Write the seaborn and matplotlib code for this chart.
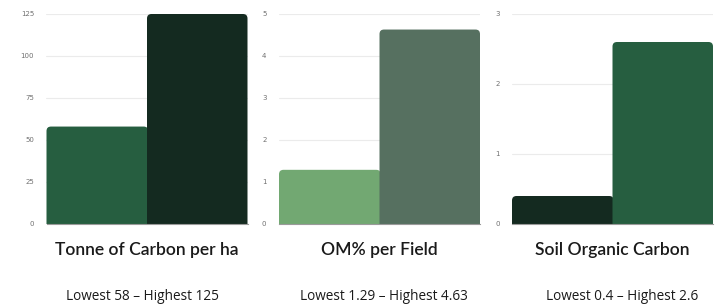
import matplotlib
matplotlib.use("Agg")
import matplotlib.pyplot as plt
import seaborn as sns
import pandas as pd
from matplotlib.patches import FancyBboxPatch

sns.set_theme(style="white")

titles = ["Tonne of Carbon per ha", "OM% per Field", "Soil Organic Carbon"]
categories = ["Lowest", "Highest"]
carbon_values = [58, 125]
om_values = [1.29, 4.63]
soc_values = [0.4, 2.6]
carbon_ticks = [0, 25, 50, 75, 100, 125]
om_ticks = [0, 1, 2, 3, 4, 5]
soc_ticks = [0, 1, 2, 3]
carbon_colors = ["#265E40", "#142A20"]
om_colors = ["#72A872", "#567060"]
soc_colors = ["#142A20", "#265E40"]
footers = ["Lowest 58 \u2013 Highest 125", "Lowest 1.29 \u2013 Highest 4.63",
           "Lowest 0.4 \u2013 Highest 2.6"]

panels = [
    (carbon_values, carbon_ticks, carbon_colors),
    (om_values, om_ticks, om_colors),
    (soc_values, soc_ticks, soc_colors),
]

W, H = 723, 304
fig = plt.figure(figsize=(W / 100, H / 100), dpi=100)
lefts = [46.5, 279, 512]
ax_w, ax_top, ax_bot = 201, 14, 224
footer_x = [142.5, 383.5, 622]

for i, (vals, ticks, cols) in enumerate(panels):
    ax = fig.add_axes([lefts[i] / W, 1 - ax_bot / H, ax_w / W, (ax_bot - ax_top) / H])
    df = pd.DataFrame({"cat": categories, "val": vals})
    sns.barplot(data=df, x="cat", y="val", hue="cat", palette=cols, width=1,
                legend=False, ax=ax, zorder=3, saturation=1)
    ymax = ticks[-1]
    ax.set_ylim(0, ymax)
    ax.set_xlim(-0.5, 1.5)
    # rounded top corners
    r_px = 4.5
    rx = r_px * 2 / ax_w
    ry = r_px * ymax / (ax_bot - ax_top)
    for j, p in enumerate(list(ax.patches)):
        x0, w, h = p.get_x(), p.get_width(), p.get_height()
        fc = p.get_facecolor()
        p.remove()
        extra = 0.012 if j == 0 else 0.0
        fb = FancyBboxPatch((x0, -ry * 2), w + extra, h + ry * 2,
                            boxstyle=f"round,pad=0,rounding_size={rx}",
                            mutation_aspect=ry / rx, facecolor=fc,
                            edgecolor="none", zorder=3 + j)
        ax.add_patch(fb)
    ax.set_yticks(ticks)
    ax.set_yticklabels([str(t) for t in ticks])
    ax.tick_params(axis="y", labelsize=5, colors="#707070", length=0, pad=9)
    ax.set_xticks([])
    ax.set_xlabel("")
    ax.set_ylabel("")
    ax.grid(axis="y", color="#ebebeb", linewidth=0.8, zorder=0)
    for s in ["top", "right", "left"]:
        ax.spines[s].set_visible(False)
    ax.spines["bottom"].set_color("#9a9a9a")
    ax.spines["bottom"].set_linewidth(0.8)
    ax.spines["bottom"].set_zorder(6)
    cx = (lefts[i] + ax_w / 2) / W
    fig.text(cx, 1 - 250 / H, titles[i], ha="center", va="center",
             fontsize=12.6, family="Lato", fontweight="semibold", color="#1a1a1a")
    fig.text(footer_x[i] / W, 1 - 296 / H, footers[i], ha="center", va="center",
             fontsize=9.8, family="Open Sans", color="#1a1a1a")

fig.savefig("out.png", dpi=100, facecolor="white")
